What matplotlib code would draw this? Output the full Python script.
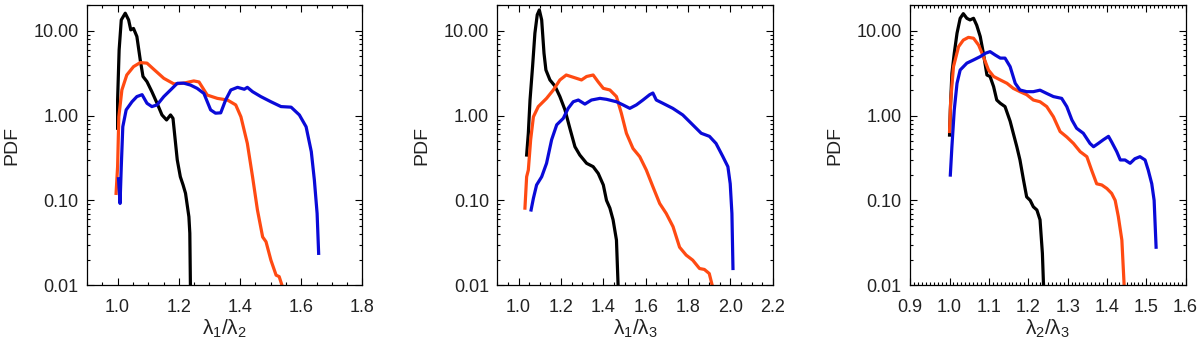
import matplotlib
matplotlib.use("Agg")
import matplotlib.pyplot as plt
from matplotlib.ticker import MultipleLocator, FixedLocator, FormatStrFormatter, LogLocator, NullFormatter

plt.rcParams['font.family'] = 'Liberation Sans'
plt.rcParams['mathtext.fontset'] = 'custom'
plt.rcParams['mathtext.rm'] = 'Liberation Sans'
plt.rcParams['mathtext.it'] = 'Liberation Sans'

# panel 1: lambda1/lambda2
p1_black_x = [1.0, 1.0, 1.005, 1.012, 1.025, 1.036, 1.043, 1.052, 1.063, 1.074, 1.083, 1.096, 1.112, 1.129,
              1.145, 1.16, 1.173, 1.181, 1.186, 1.195, 1.205, 1.214, 1.222, 1.233, 1.236, 1.238]
p1_black_y = [0.71, 1.53, 5.97, 13.5, 16.2, 13.5, 10.3, 10.7, 8.6, 4.55, 2.9, 2.52, 1.92, 1.40,
              1.02, 0.89, 1.02, 0.93, 0.62, 0.30, 0.19, 0.152, 0.121, 0.064, 0.041, 0.0095]
p1_orange_x = [0.995, 1.0, 1.004, 1.014, 1.03, 1.052, 1.074, 1.096, 1.118, 1.151, 1.184, 1.216, 1.249, 1.266,
               1.293, 1.326, 1.359, 1.386, 1.403, 1.424, 1.441, 1.457, 1.474, 1.485, 1.501, 1.518, 1.528, 1.539]
p1_orange_y = [0.121, 0.25, 0.97, 2.01, 3.02, 3.79, 4.23, 4.17, 3.53, 2.76, 2.37, 2.42, 2.57, 2.5,
               1.75, 1.60, 1.53, 1.34, 0.97, 0.47, 0.19, 0.077, 0.037, 0.0325, 0.0197, 0.0131, 0.0126, 0.0095]
p1_blue_x = [1.003, 1.008, 1.012, 1.017, 1.028, 1.047, 1.063, 1.08, 1.096, 1.112, 1.129, 1.151, 1.173, 1.195,
             1.216, 1.238, 1.26, 1.282, 1.304, 1.32, 1.337, 1.353, 1.37, 1.392, 1.414, 1.424, 1.441, 1.468,
             1.501, 1.534, 1.567, 1.594, 1.616, 1.633, 1.643, 1.652, 1.657]
p1_blue_y = [0.18, 0.092, 0.25, 0.74, 1.17, 1.46, 1.68, 1.77, 1.40, 1.28, 1.34, 1.68, 2.01, 2.41,
             2.42, 2.30, 2.10, 1.83, 1.17, 1.07, 1.08, 1.53, 2.01, 2.16, 2.05, 2.16, 1.92, 1.68,
             1.46, 1.28, 1.26, 1.02, 0.74, 0.376, 0.174, 0.070, 0.0237]

# panel 2: lambda1/lambda3
p2_black_x = [1.038, 1.046, 1.054, 1.066, 1.077, 1.088, 1.098, 1.109, 1.12, 1.129, 1.148, 1.172, 1.195, 1.219,
              1.242, 1.266, 1.289, 1.321, 1.352, 1.376, 1.4, 1.415, 1.431, 1.446, 1.462, 1.47]
p2_black_y = [0.343, 0.62, 1.53, 3.79, 9.4, 15.5, 17.7, 13.5, 5.45, 3.46, 2.64, 2.23, 1.68, 1.17,
              0.71, 0.43, 0.343, 0.274, 0.25, 0.208, 0.152, 0.10, 0.081, 0.059, 0.034, 0.0095]
p2_orange_x = [1.03, 1.038, 1.046, 1.057, 1.07, 1.093, 1.132, 1.164, 1.195, 1.225, 1.258, 1.297, 1.321, 1.352,
               1.376, 1.40, 1.431, 1.462, 1.485, 1.509, 1.54, 1.572, 1.603, 1.634, 1.666, 1.697, 1.729, 1.76,
               1.791, 1.822, 1.854, 1.877, 1.9, 1.916]
p2_orange_y = [0.081, 0.19, 0.228, 0.52, 0.97, 1.28, 1.60, 2.01, 2.64, 3.02, 2.84, 2.64, 2.9, 3.02,
               2.5, 2.1, 2.01, 1.68, 1.07, 0.62, 0.41, 0.328, 0.228, 0.145, 0.092, 0.07, 0.049, 0.028,
               0.0226, 0.0197, 0.0157, 0.0153, 0.0137, 0.0095]
p2_blue_x = [1.059, 1.07, 1.085, 1.109, 1.132, 1.156, 1.18, 1.211, 1.234, 1.258, 1.282, 1.313, 1.344, 1.384,
             1.415, 1.462, 1.493, 1.525, 1.556, 1.587, 1.619, 1.634, 1.65, 1.681, 1.728, 1.775, 1.822, 1.862,
             1.901, 1.932, 1.964, 1.988, 1.999, 2.007, 2.012]
p2_blue_y = [0.077, 0.106, 0.152, 0.19, 0.274, 0.52, 0.78, 0.93, 1.22, 1.46, 1.53, 1.37, 1.53, 1.60,
             1.56, 1.46, 1.34, 1.22, 1.34, 1.53, 1.77, 1.85, 1.53, 1.40, 1.22, 1.02, 0.78, 0.62,
             0.57, 0.47, 0.33, 0.25, 0.157, 0.070, 0.0157]

# panel 3: lambda2/lambda3
p3_black_x = [1.0, 1.002, 1.006, 1.012, 1.019, 1.027, 1.035, 1.044, 1.052, 1.061, 1.069, 1.078, 1.086, 1.095,
              1.103, 1.112, 1.12, 1.129, 1.141, 1.154, 1.162, 1.171, 1.179, 1.188, 1.196, 1.205, 1.213, 1.222,
              1.23, 1.236, 1.239]
p3_black_y = [0.59, 1.17, 3.16, 5.45, 9.4, 14.1, 16.0, 14.1, 13.5, 14.1, 11.7, 8.6, 5.45, 3.02,
              2.9, 2.2, 1.53, 1.40, 1.28, 0.86, 0.62, 0.43, 0.30, 0.174, 0.11, 0.10, 0.084, 0.077,
              0.059, 0.0237, 0.0095]
p3_orange_x = [1.0, 1.003, 1.01, 1.023, 1.035, 1.048, 1.061, 1.074, 1.086, 1.099, 1.112, 1.129, 1.146, 1.162,
               1.179, 1.196, 1.213, 1.23, 1.247, 1.264, 1.281, 1.298, 1.315, 1.332, 1.349, 1.361, 1.374, 1.387,
               1.4, 1.412, 1.421, 1.429, 1.438, 1.444]
p3_orange_y = [0.65, 1.53, 3.79, 6.53, 7.8, 8.4, 8.2, 6.8, 4.98, 3.46, 2.9, 2.64, 2.41, 2.1,
               1.92, 1.77, 1.53, 1.46, 1.28, 0.97, 0.65, 0.56, 0.47, 0.376, 0.328, 0.228, 0.157, 0.152,
               0.138, 0.121, 0.10, 0.0645, 0.034, 0.0095]
p3_blue_x = [1.002, 1.006, 1.012, 1.019, 1.027, 1.044, 1.061, 1.078, 1.091, 1.103, 1.116, 1.129, 1.141, 1.154,
             1.167, 1.179, 1.196, 1.213, 1.23, 1.247, 1.264, 1.285, 1.298, 1.311, 1.323, 1.34, 1.357, 1.366,
             1.378, 1.391, 1.404, 1.412, 1.425, 1.434, 1.446, 1.459, 1.471, 1.484, 1.497, 1.505, 1.514, 1.52,
             1.525]
p3_blue_y = [0.199, 0.43, 1.17, 2.41, 3.46, 4.17, 4.55, 4.98, 5.45, 5.7, 5.2, 4.78, 4.78, 3.79,
             2.41, 2.01, 1.92, 1.92, 2.0, 1.83, 1.68, 1.60, 1.28, 0.89, 0.71, 0.62, 0.47, 0.43,
             0.47, 0.52, 0.57, 0.49, 0.376, 0.30, 0.30, 0.274, 0.31, 0.328, 0.30, 0.228, 0.157, 0.10,
             0.028]

xlabels = [r'$\lambda_1/\lambda_2$', r'$\lambda_1/\lambda_3$', r'$\lambda_2/\lambda_3$']
xlims = [(0.9, 1.8), (0.9, 2.2), (0.9, 1.6)]
xmajor = [0.2, 0.2, 0.1]
xminor = [0.05, 0.05, 0.01]
ytick_vals = [0.01, 0.1, 1.0, 10.0]

panels = [
    [(p1_black_x, p1_black_y), (p1_orange_x, p1_orange_y), (p1_blue_x, p1_blue_y)],
    [(p2_black_x, p2_black_y), (p2_orange_x, p2_orange_y), (p2_blue_x, p2_blue_y)],
    [(p3_black_x, p3_black_y), (p3_orange_x, p3_orange_y), (p3_blue_x, p3_blue_y)],
]
colors = ['black', '#ff4a12', '#0a0ad8']
lefts = [0.0725, 0.4145, 0.7585]
textcol = '#222222'

fig = plt.figure(figsize=(12, 3.39), dpi=100)
for i in range(3):
    ax = fig.add_axes([lefts[i], 0.159, 0.2295, 0.826])
    for (x, y), c in zip(panels[i], colors):
        ax.plot(x, y, color=c, lw=2.3)
    ax.set_yscale('log')
    ax.set_xlim(*xlims[i])
    ax.set_ylim(0.01, 20.2)
    ax.yaxis.set_major_locator(FixedLocator(ytick_vals))
    ax.yaxis.set_major_formatter(FormatStrFormatter('%.2f'))
    ax.yaxis.set_minor_locator(LogLocator(base=10, subs=range(2, 10)))
    ax.yaxis.set_minor_formatter(NullFormatter())
    ax.xaxis.set_major_locator(MultipleLocator(xmajor[i]))
    ax.xaxis.set_minor_locator(MultipleLocator(xminor[i]))
    ax.xaxis.set_major_formatter(FormatStrFormatter('%.1f'))
    ax.tick_params(which='both', direction='in', top=True, right=True, labelsize=13,
                   labelcolor=textcol, width=0.8)
    ax.tick_params(which='major', length=5)
    ax.tick_params(axis='y', which='major', pad=6)
    ax.tick_params(axis='x', which='major', pad=10)
    ax.tick_params(which='minor', length=2.5)
    for s in ax.spines.values():
        s.set_linewidth(0.9)
    ax.set_xlabel(xlabels[i], fontsize=15, color=textcol)
    ax.xaxis.set_label_coords(0.5, -0.115)
    ax.set_ylabel('PDF', fontsize=14, color=textcol)
    ax.yaxis.set_label_coords(-0.273, 0.5)
    ax.yaxis.label.set_va('center')

plt.savefig('out.png', dpi=100)
